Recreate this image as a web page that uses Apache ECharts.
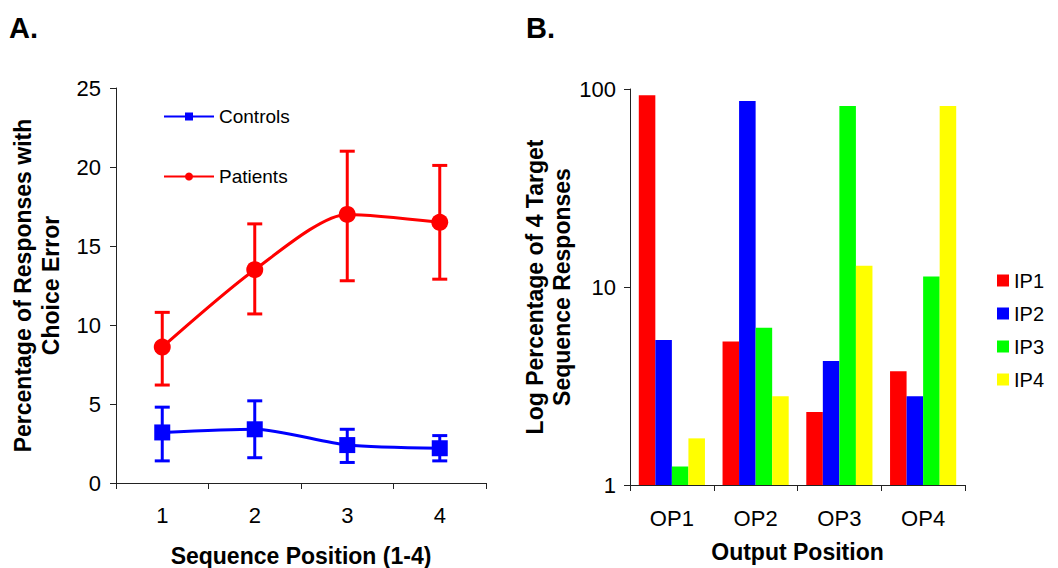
<!DOCTYPE html>
<html>
<head>
<meta charset="utf-8">
<script src="https://cdn.jsdelivr.net/npm/echarts@6/dist/echarts.min.js"></script>
<style>
  html, body { margin: 0; padding: 0; background: #fff; }
  #chart { width: 1058px; height: 568px; }
</style>
</head>
<body>
<div id="chart"></div>
<script>
(function() {
  // ---- Panel A data ----
  var positions = ['1', '2', '3', '4'];
  var controls = [3.2, 3.4, 2.4, 2.2];
  var controlsLow = [1.4, 1.6, 1.3, 1.4];
  var controlsHigh = [4.8, 5.2, 3.4, 3.0];
  var patients = [8.6, 13.5, 17.0, 16.5];
  var patientsLow = [6.2, 10.7, 12.8, 12.9];
  var patientsHigh = [10.8, 16.4, 21.0, 20.1];

  // ---- Panel B data ----
  var outputs = ['OP1', 'OP2', 'OP3', 'OP4'];
  var ip1 = [93, 5.3, 2.34, 3.75];
  var ip2 = [5.4, 87, 4.23, 2.81];
  var ip3 = [1.24, 6.23, 82, 11.3];
  var ip4 = [1.72, 2.81, 12.8, 82];

  var red = '#ff0000', blue = '#0000ff', green = '#00ff00', yellow = '#ffff00';
  var font = 'Liberation Sans, Arial, sans-serif';
  var axisColor = '#222';

  function bars(low, high) {
    return low.map(function(v, i) { return [i, v, high[i]]; });
  }

  function errorBars(color) {
    return function(params, api) {
      var x = api.value(0);
      var lo = api.coord([x, api.value(1)]);
      var hi = api.coord([x, api.value(2)]);
      var w = 7.5;
      var style = { stroke: color, lineWidth: 3 };
      return {
        type: 'group',
        children: [
          { type: 'line', shape: { x1: lo[0], y1: lo[1], x2: hi[0], y2: hi[1] }, style: style },
          { type: 'line', shape: { x1: lo[0] - w, y1: lo[1], x2: lo[0] + w, y2: lo[1] }, style: style },
          { type: 'line', shape: { x1: hi[0] - w, y1: hi[1], x2: hi[0] + w, y2: hi[1] }, style: style }
        ]
      };
    };
  }

  function catAxis(idx, data, name, labelMargin, nameGap) {
    return {
      type: 'category',
      gridIndex: idx,
      data: data,
      boundaryGap: true,
      axisLine: { lineStyle: { color: axisColor, width: 1 } },
      axisTick: { show: true, length: 6, lineStyle: { color: axisColor } },
      axisLabel: { color: '#000', fontSize: 22, fontFamily: font, margin: labelMargin },
      name: name,
      nameLocation: 'middle',
      nameGap: nameGap,
      nameTextStyle: { color: '#000', fontSize: 23, fontWeight: 'bold', fontFamily: font }
    };
  }

  var chart = echarts.init(document.getElementById('chart'), null, { renderer: 'svg' });
  chart.setOption({
    animation: false,
    textStyle: { fontFamily: font },
    graphic: [
      { type: 'text', left: 9, top: 13, style: { text: 'A.', fontSize: 29, fontWeight: 'bold', fontFamily: font, fill: '#000' } },
      { type: 'text', left: 526, top: 13, style: { text: 'B.', fontSize: 29, fontWeight: 'bold', fontFamily: font, fill: '#000' } }
    ],
    legend: [
      {
        data: ['Controls', 'Patients'],
        orient: 'vertical',
        left: 163,
        top: 106,
        padding: 0,
        itemGap: 39,
        itemWidth: 50,
        itemHeight: 10,
        textStyle: { color: '#000', fontSize: 19, lineHeight: 21, fontFamily: font }
      },
      {
        data: ['IP1', 'IP2', 'IP3', 'IP4'],
        orient: 'vertical',
        left: 997,
        top: 270,
        padding: 0,
        itemGap: 12,
        itemWidth: 12,
        itemHeight: 12,
        icon: 'rect',
        textStyle: { color: '#000', fontSize: 20, lineHeight: 21, fontFamily: font }
      }
    ],
    grid: [
      { left: 116, top: 88, width: 370, height: 395, outerBoundsMode: 'none' },
      { left: 630, top: 89, width: 335, height: 396, outerBoundsMode: 'none' }
    ],
    xAxis: [
      catAxis(0, positions, 'Sequence Position (1-4)', 21, 61),
      catAxis(1, outputs, 'Output Position', 22, 55)
    ],
    yAxis: [
      {
        type: 'value',
        gridIndex: 0,
        min: 0,
        max: 25,
        interval: 5,
        axisLine: { show: true, lineStyle: { color: axisColor } },
        axisTick: { show: true, length: 6, lineStyle: { color: axisColor } },
        splitLine: { show: false },
        axisLabel: { color: '#000', fontSize: 22, fontFamily: font, margin: 15 },
        name: 'Percentage of Responses with\nChoice Error',
        nameLocation: 'middle',
        nameGap: 51,
        nameTextStyle: { color: '#000', fontSize: 23, fontWeight: 'bold', fontFamily: font, lineHeight: 28 }
      },
      {
        type: 'log',
        logBase: 10,
        gridIndex: 1,
        min: 1,
        max: 100,
        axisLine: { show: true, lineStyle: { color: axisColor } },
        axisTick: { show: true, length: 6, lineStyle: { color: axisColor } },
        minorTick: { show: false },
        splitLine: { show: false },
        axisLabel: { color: '#000', fontSize: 22, fontFamily: font, margin: 14 },
        name: 'Log Percentage of 4 Target\nSequence Responses',
        nameLocation: 'middle',
        nameGap: 54,
        nameTextStyle: { color: '#000', fontSize: 23, fontWeight: 'bold', fontFamily: font, lineHeight: 27 }
      }
    ],
    series: [
      {
        name: 'Controls err',
        type: 'custom',
        xAxisIndex: 0,
        yAxisIndex: 0,
        renderItem: errorBars(blue),
        encode: { x: 0, y: [1, 2] },
        data: bars(controlsLow, controlsHigh),
        z: 2
      },
      {
        name: 'Patients err',
        type: 'custom',
        xAxisIndex: 0,
        yAxisIndex: 0,
        renderItem: errorBars(red),
        encode: { x: 0, y: [1, 2] },
        data: bars(patientsLow, patientsHigh),
        z: 2
      },
      {
        name: 'Controls',
        type: 'line',
        xAxisIndex: 0,
        yAxisIndex: 0,
        data: controls,
        smooth: 0.25,
        symbol: 'rect',
        symbolSize: 16,
        lineStyle: { color: blue, width: 3 },
        itemStyle: { color: blue },
        z: 3
      },
      {
        name: 'Patients',
        type: 'line',
        xAxisIndex: 0,
        yAxisIndex: 0,
        data: patients,
        smooth: 0.25,
        symbol: 'circle',
        symbolSize: 17,
        lineStyle: { color: red, width: 3 },
        itemStyle: { color: red },
        z: 3
      },
      { name: 'IP1', type: 'bar', xAxisIndex: 1, yAxisIndex: 1, data: ip1, itemStyle: { color: red }, barGap: 0, barCategoryGap: '21%' },
      { name: 'IP2', type: 'bar', xAxisIndex: 1, yAxisIndex: 1, data: ip2, itemStyle: { color: blue }, barGap: 0, barCategoryGap: '21%' },
      { name: 'IP3', type: 'bar', xAxisIndex: 1, yAxisIndex: 1, data: ip3, itemStyle: { color: green }, barGap: 0, barCategoryGap: '21%' },
      { name: 'IP4', type: 'bar', xAxisIndex: 1, yAxisIndex: 1, data: ip4, itemStyle: { color: yellow }, barGap: 0, barCategoryGap: '21%' }
    ]
  });
  window.addEventListener('resize', function() { chart.resize(); });
})();
</script>
</body>
</html>
